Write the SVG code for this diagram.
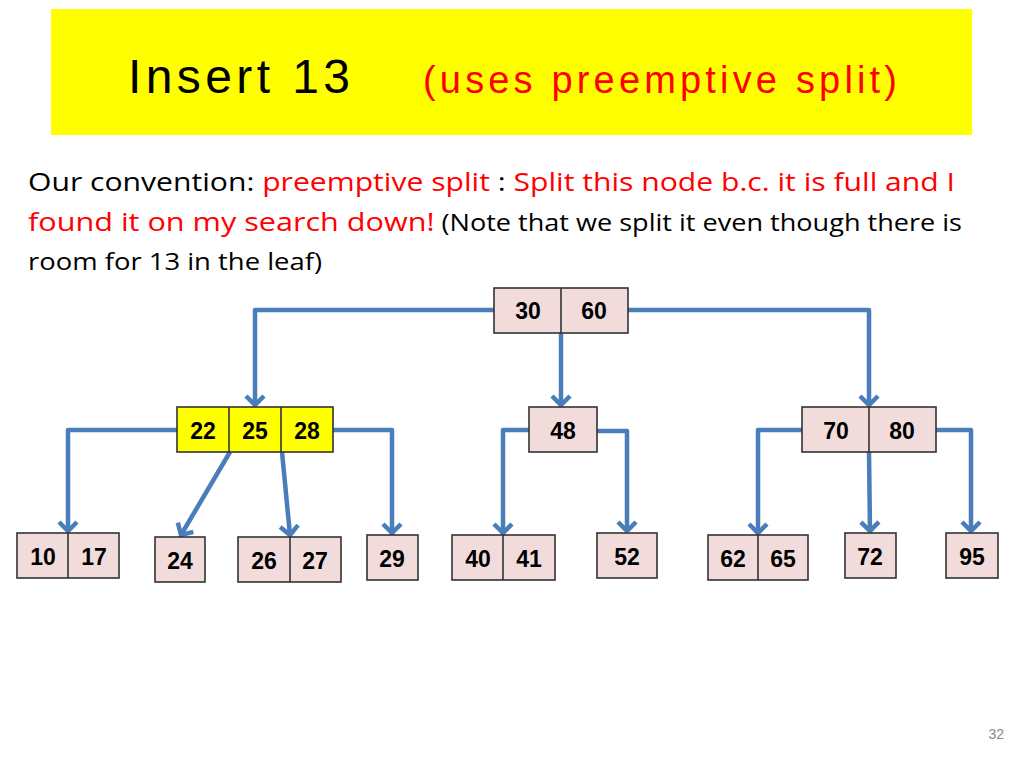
<svg xmlns="http://www.w3.org/2000/svg" width="1024" height="768" viewBox="0 0 1024 768">
<style>
.n{fill:#f2dcdb;stroke:#333;stroke-width:1.6}
.y{fill:#ffff00;stroke:#333;stroke-width:1.6}
.d{stroke:#333;stroke-width:1.6}
.t{font-family:"Liberation Sans",Arial,sans-serif;font-weight:bold;font-size:23px;text-anchor:middle;fill:#000}
.c{fill:none;stroke:#4a7ebb;stroke-width:4.5;stroke-linejoin:round}
.b{font-family:"Open Sans","Liberation Sans",sans-serif}
</style>
<defs>
<marker id="a" markerUnits="userSpaceOnUse" markerWidth="24" markerHeight="24" refX="12" refY="12" orient="auto" viewBox="0 0 24 24">
<path d="M3,3 L12,12 L3,21" fill="none" stroke="#4a7ebb" stroke-width="4.5"/>
</marker>
</defs>
<rect width="1024" height="768" fill="#fff"/>
<rect x="51" y="9" width="921" height="126" fill="#ffff00"/>
<text x="128" y="93" font-family="Liberation Sans,sans-serif" font-size="48" fill="#000" textLength="222">Insert 13</text>
<text x="423" y="93" font-family="Liberation Sans,sans-serif" font-size="38" fill="#ff0000" textLength="474">(uses preemptive split)</text>
<text class="b" x="28" y="191" font-size="26" textLength="927" lengthAdjust="spacingAndGlyphs"><tspan fill="#000">Our convention:  </tspan><tspan fill="#ff0000">preemptive split</tspan><tspan fill="#000"> : </tspan><tspan fill="#ff0000">Split this node b.c. it is full and I</tspan></text>
<text class="b" x="28" y="231" font-size="26" textLength="934" lengthAdjust="spacingAndGlyphs"><tspan fill="#ff0000">found it on my search down!</tspan><tspan fill="#000" font-size="23"> (Note that we split it even though there is</tspan></text>
<text class="b" x="28" y="270" font-size="23" fill="#000" textLength="294" lengthAdjust="spacingAndGlyphs">room for 13 in the leaf)</text>
<text x="1004" y="739" font-family="Liberation Sans,sans-serif" font-size="14" fill="#888" text-anchor="end">32</text>
<g id="connectors">
<path class="c" d="M494,310 H255 V405" marker-end="url(#a)"/>
<path class="c" d="M561,333 V405" marker-end="url(#a)"/>
<path class="c" d="M628,310 H869 V405" marker-end="url(#a)"/>
<path class="c" d="M177,430 H68 V531" marker-end="url(#a)"/>
<path class="c" d="M230,452 L181,535" marker-end="url(#a)"/>
<path class="c" d="M282,452 L290,535" marker-end="url(#a)"/>
<path class="c" d="M333,430 H392 V533" marker-end="url(#a)"/>
<path class="c" d="M529,430 H503 V533" marker-end="url(#a)"/>
<path class="c" d="M597,431 H627 V531" marker-end="url(#a)"/>
<path class="c" d="M802,430 H758 V533" marker-end="url(#a)"/>
<path class="c" d="M869,452 L870,531" marker-end="url(#a)"/>
<path class="c" d="M936,430 H971 V531" marker-end="url(#a)"/>
</g>
<g id="root"><rect class="n" x="494" y="288" width="134" height="45"/><line class="d" x1="561" y1="288" x2="561" y2="333"/><text class="t" x="528" y="319">30</text><text class="t" x="594" y="319">60</text></g>
<g id="n222528"><rect class="y" x="177" y="407" width="156" height="45"/><line class="d" x1="229" y1="407" x2="229" y2="452"/><line class="d" x1="281" y1="407" x2="281" y2="452"/><text class="t" x="203" y="439">22</text><text class="t" x="255" y="439">25</text><text class="t" x="307" y="439">28</text></g>
<g id="n48"><rect class="n" x="529" y="407" width="68" height="45"/><text class="t" x="563" y="439">48</text></g>
<g id="n7080"><rect class="n" x="802" y="407" width="134" height="45"/><line class="d" x1="869" y1="407" x2="869" y2="452"/><text class="t" x="836" y="439">70</text><text class="t" x="902" y="439">80</text></g>
<g id="n1017"><rect class="n" x="17" y="533" width="102" height="45"/><line class="d" x1="68" y1="533" x2="68" y2="578"/><text class="t" x="43" y="565">10</text><text class="t" x="94" y="565">17</text></g>
<g id="n24"><rect class="n" x="155" y="537" width="50" height="45"/><text class="t" x="180" y="569">24</text></g>
<g id="n2627"><rect class="n" x="238" y="537" width="103" height="45"/><line class="d" x1="290" y1="537" x2="290" y2="582"/><text class="t" x="264" y="569">26</text><text class="t" x="315" y="569">27</text></g>
<g id="n29"><rect class="n" x="367" y="535" width="51" height="45"/><text class="t" x="392" y="567">29</text></g>
<g id="n4041"><rect class="n" x="452" y="535" width="103" height="45"/><line class="d" x1="503" y1="535" x2="503" y2="580"/><text class="t" x="478" y="567">40</text><text class="t" x="529" y="567">41</text></g>
<g id="n52"><rect class="n" x="597" y="533" width="60" height="45"/><text class="t" x="627" y="565">52</text></g>
<g id="n6265"><rect class="n" x="708" y="535" width="100" height="45"/><line class="d" x1="758" y1="535" x2="758" y2="580"/><text class="t" x="733" y="567">62</text><text class="t" x="783" y="567">65</text></g>
<g id="n72"><rect class="n" x="845" y="533" width="51" height="45"/><text class="t" x="870" y="565">72</text></g>
<g id="n95"><rect class="n" x="946" y="533" width="52" height="45"/><text class="t" x="972" y="565">95</text></g>
</svg>
